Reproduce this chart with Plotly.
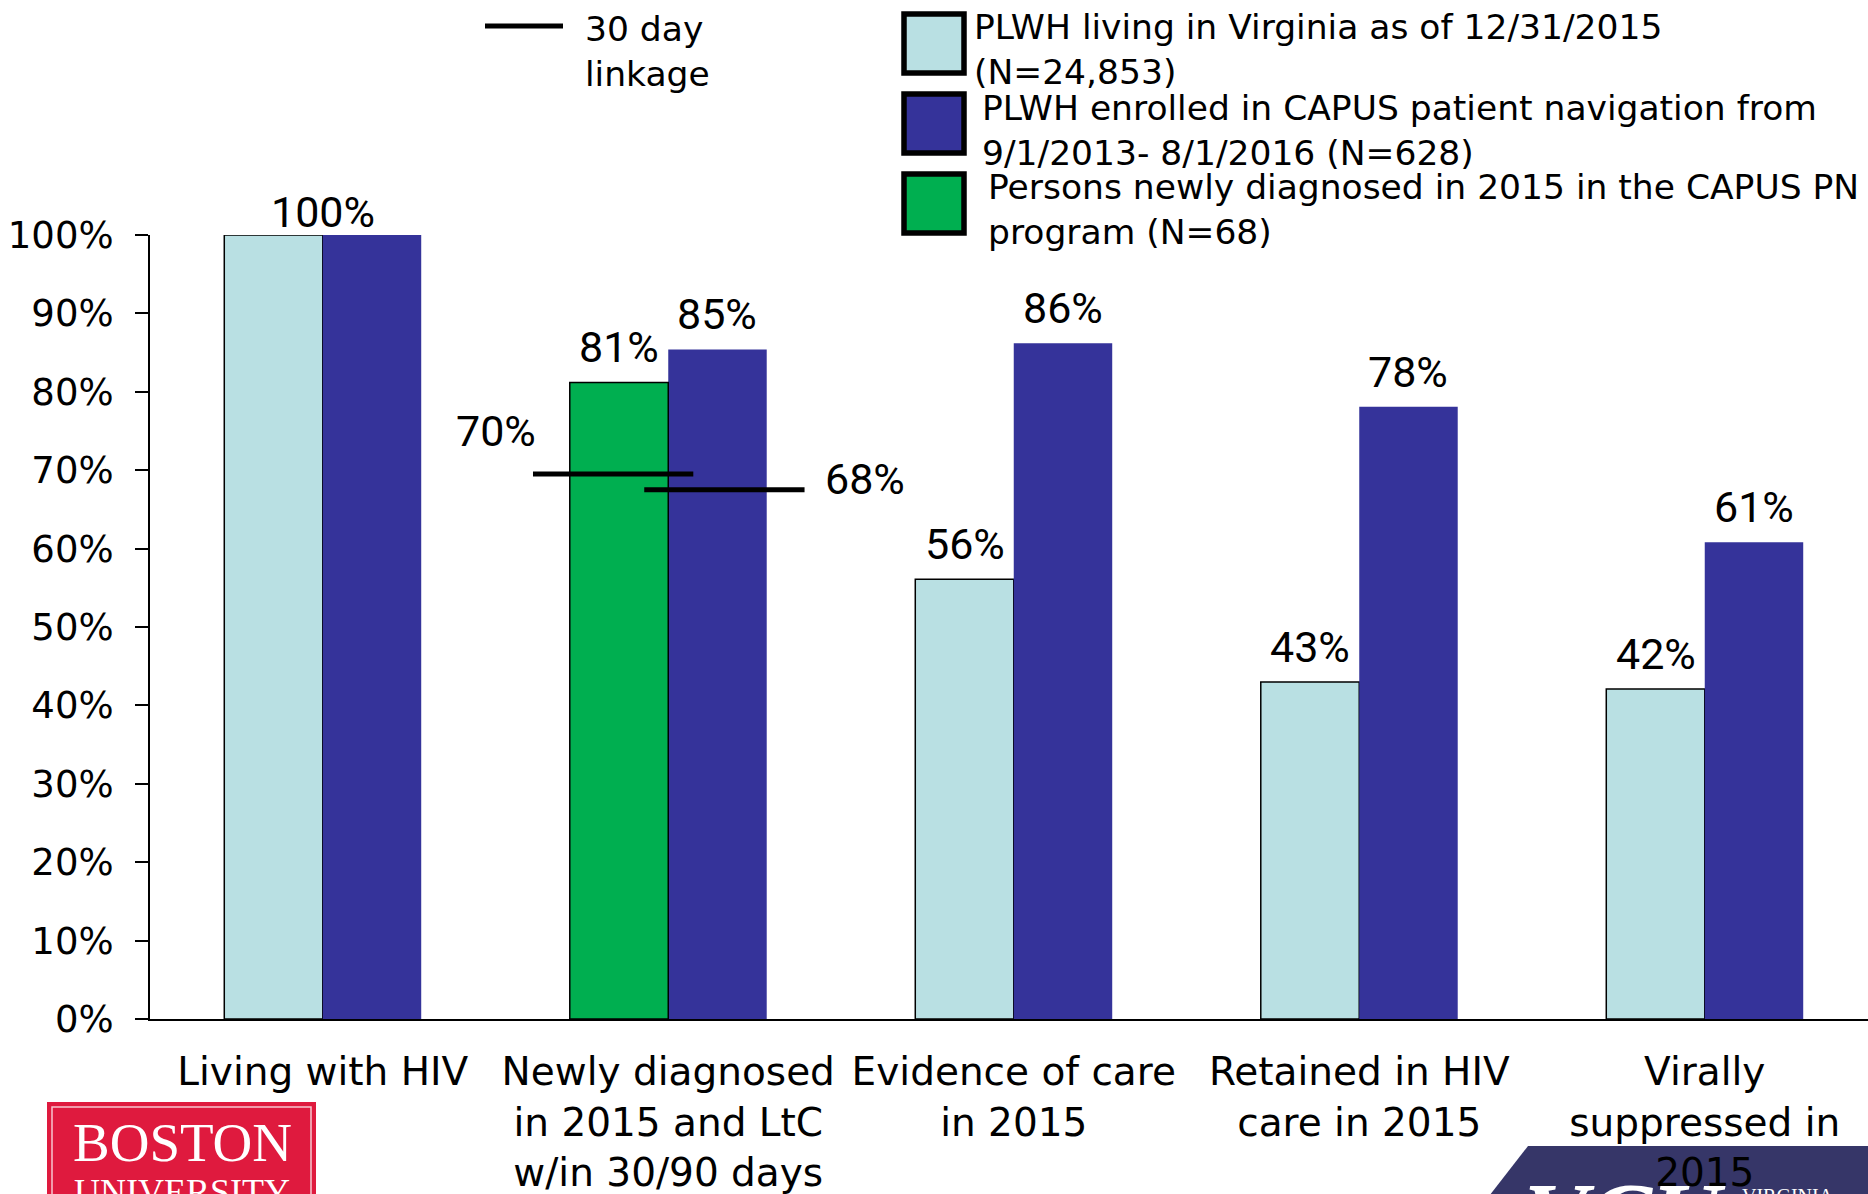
import plotly.graph_objects as go

# ---------------- data ----------------
categories = [
    "Living with HIV",
    "Newly diagnosed<br>in 2015 and LtC<br>w/in 30/90 days",
    "Evidence of care<br>in 2015",
    "Retained in HIV<br>care in 2015",
    "Virally<br>suppressed in<br>2015",
]
virginia_pct = [100, None, 56.1, 43.0, 42.1]
capus_pct = [100, 85.4, 86.2, 78.1, 60.8]
newly_dx_pct = [None, 81.2, None, None, None]
linkage_30day_pct = [69.5, 67.5]          # newly diagnosed (green), CAPUS PN (navy)
y_tick_values = [0, 10, 20, 30, 40, 50, 60, 70, 80, 90, 100]
y_tick_labels = [f"{v}%" for v in y_tick_values]
series_names = [
    "PLWH living in Virginia as of 12/31/2015<br>(N=24,853)",
    "PLWH enrolled in CAPUS patient navigation from<br>9/1/2013- 8/1/2016 (N=628)",
    "Persons newly diagnosed in 2015 in the CAPUS PN<br>program (N=68)",
]
linkage_name = "30 day<br>linkage"

# ---------------- style ----------------
W, H = 1868, 1194
ML, MR, MT, MB = 150, 0, 235, 175
PW, PH = W - ML - MR, H - MT - MB
CAT_PX = 345.5
XR = [-0.5, -0.5 + PW / CAT_PX]
BW = 0.285
C_LIGHT, C_DARK, C_GREEN = "#B9E0E3", "#35339A", "#00AF50"
TXT = "DejaVu Sans"
LBL = "Roboto"


def px(x):
    return (x - ML) / PW


def py(y):
    return (H - MB - y) / PH


x_idx = list(range(len(categories)))
fig = go.Figure()
fig.add_bar(x=x_idx, y=virginia_pct, width=BW, offset=-BW, name=series_names[0],
            marker=dict(color=C_LIGHT, line=dict(color="black", width=1.5)))
fig.add_bar(x=x_idx, y=capus_pct, width=BW, offset=0, name=series_names[1],
            marker=dict(color=C_DARK, line=dict(color=C_DARK, width=0)))
fig.add_bar(x=x_idx, y=newly_dx_pct, width=BW, offset=-BW, name=series_names[2],
            marker=dict(color=C_GREEN, line=dict(color="black", width=1.5)))

# 30 day linkage lines (drawn across the green and navy bars of category 1)
link_centers = [1 - BW / 2 - 0.017, 1 + BW / 2 + 0.02]
HALF = 0.232
for c, v in zip(link_centers, linkage_30day_pct):
    fig.add_scatter(x=[c - HALF, c + HALF], y=[v, v], mode="lines",
                    line=dict(color="black", width=5), showlegend=False,
                    hoverinfo="skip")

ann = []
# value labels
lf = dict(family=LBL, size=43, color="black")
for i, (a, b, g) in enumerate(zip(virginia_pct, capus_pct, newly_dx_pct)):
    if a is not None and b is not None and a == b:
        ann.append(dict(x=i, y=a, text=f"{a:.0f}%", showarrow=False, xanchor="center",
                        yanchor="bottom", yshift=-4, font=lf))
        continue
    if a is not None:
        ann.append(dict(x=i - BW / 2, y=a, text=f"{a:.0f}%", showarrow=False,
                        yanchor="bottom", yshift=8, font=lf))
    if g is not None:
        ann.append(dict(x=i - BW / 2, y=g, text=f"{g:.0f}%", showarrow=False,
                        yanchor="bottom", yshift=8, font=lf))
    if b is not None:
        ann.append(dict(x=i + BW / 2, y=b, text=f"{b:.0f}%", showarrow=False,
                        yanchor="bottom", yshift=8, font=lf))

# linkage labels
v0, v1 = linkage_30day_pct
ann.append(dict(x=link_centers[0] - HALF, y=v0, text=f"{v0:.0f}%", showarrow=False,
                xanchor="right", yanchor="middle", yshift=43, xshift=5, font=lf))
ann.append(dict(x=link_centers[1] + HALF, y=v1, text=f"{v1:.0f}%", showarrow=False,
                xanchor="left", yanchor="middle", yshift=11, xshift=18, font=lf))

shapes = []
# manual legend
legf = dict(family=TXT, size=34.5, color="black")
shapes.append(dict(type="line", xref="paper", yref="paper", x0=px(485), x1=px(563),
                   y0=py(26), y1=py(26), line=dict(color="black", width=5)))
ann.append(dict(xref="paper", yref="paper", x=px(583), y=py(51), text=linkage_name,
                showarrow=False, xanchor="left", yanchor="middle", align="left", font=legf))
boxes = [(12, 75, C_LIGHT, 976, 49.5), (92, 155, C_DARK, 984, 130), (172, 235, C_GREEN, 990, 210)]
for (t, b, col, tx, tcy), nm in zip(boxes, series_names):
    shapes.append(dict(type="rect", xref="paper", yref="paper", x0=px(904), x1=px(964),
                       y0=py(b - 2), y1=py(t + 2), fillcolor=col,
                       line=dict(color="black", width=5.5)))
    ann.append(dict(xref="paper", yref="paper", x=px(tx - 4), y=py(tcy), text=nm,
                    showarrow=False, xanchor="left", yanchor="middle", align="left",
                    font=legf))

# Boston University logo
shapes.append(dict(type="rect", xref="paper", yref="paper", x0=px(47), x1=px(316),
                   y0=py(1210), y1=py(1102), fillcolor="#DF1A3E", line=dict(width=0),
                   layer="below"))
shapes.append(dict(type="rect", xref="paper", yref="paper", x0=px(52), x1=px(311),
                   y0=py(1210), y1=py(1107), fillcolor="rgba(0,0,0,0)",
                   line=dict(color="#F7C6CF", width=1.5), layer="below"))
ann.append(dict(xref="paper", yref="paper", x=px(182), y=py(1142), text="BOSTON",
                showarrow=False, xanchor="center", yanchor="middle",
                font=dict(family="Liberation Serif", size=55, color="white")))
ann.append(dict(xref="paper", yref="paper", x=px(182), y=py(1192), text="UNIVERSITY",
                showarrow=False, xanchor="center", yanchor="middle",
                font=dict(family="Liberation Serif", size=36, color="white")))

# VCU logo
path = "M {} {} L {} {} L {} {} L {} {} Z".format(px(1486), py(1200), px(1528), py(1146),
                                                   px(1875), py(1146), px(1875), py(1200))
shapes.append(dict(type="path", xref="paper", yref="paper", path=path,
                   fillcolor="#363668", line=dict(width=0), layer="below"))
ann.append(dict(xref="paper", yref="paper", x=px(1522), y=py(1216), text="<b><i>VCU</i></b>",
                showarrow=False, xanchor="left", yanchor="middle",
                font=dict(family="Liberation Serif", size=96, color="white")))
ann.append(dict(xref="paper", yref="paper", x=px(1740), y=py(1196), text="VIRGINIA",
                showarrow=False, xanchor="left", yanchor="middle",
                font=dict(family="Liberation Serif", size=20, color="white")))

fig.update_layout(
    width=W, height=H, autosize=False,
    margin=dict(l=ML, r=MR, t=MT, b=MB, pad=0),
    paper_bgcolor="white", plot_bgcolor="white",
    barmode="overlay", showlegend=False,
    annotations=ann, shapes=shapes,
    xaxis=dict(range=XR, tickmode="array", tickvals=x_idx, ticktext=categories,
               showline=True, linecolor="black", linewidth=2, ticks="",
               showgrid=False, zeroline=False, ticklabelstandoff=17,
               tickfont=dict(family=TXT, size=39, color="black")),
    yaxis=dict(range=[0, 100], tickmode="array", tickvals=y_tick_values,
               ticktext=y_tick_labels, showline=True, linecolor="black", linewidth=2,
               ticks="outside", ticklen=13, tickwidth=2, tickcolor="black",
               showgrid=False, zeroline=False, ticklabelstandoff=14,
               tickfont=dict(family=TXT, size=37, color="black")),
)

fig.write_html("out.html", config=dict(displayModeBar=False),
               post_script="document.body.style.margin='0';document.body.style.overflow='hidden';")
